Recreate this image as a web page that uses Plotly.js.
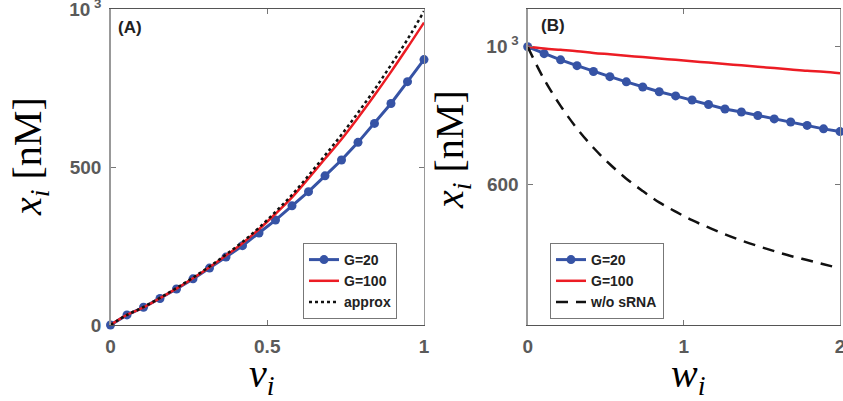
<!DOCTYPE html>
<html><head><meta charset="utf-8">
<script src="https://cdn.plot.ly/plotly-3.0.1.min.js"></script>
<style>html,body{margin:0;padding:0;background:#fff}#chart{width:843px;height:401px}</style>
</head><body><div id="chart"></div><script>
// Panel A data
const vA = [0, 0.0526, 0.1053, 0.1579, 0.2105, 0.2632, 0.3158, 0.3684, 0.4211, 0.4737, 0.5263, 0.5789, 0.6316, 0.6842, 0.7368, 0.7895, 0.8421, 0.8947, 0.9474, 1];
const aG20 = [0, 32, 56, 84, 114, 146, 180, 215, 251, 291, 332, 377, 422, 472, 522, 578, 638, 701, 770, 840];
const aG100 = [0, 32, 56, 85, 115, 148, 183, 220, 259, 303, 352, 404, 464, 526, 588, 656, 727, 801, 878, 957];
const aApprox = [0, 32, 57, 86, 117, 150, 185, 223, 263, 308, 358, 412, 473, 537, 602, 672, 745, 823, 904, 993];
// Panel B data
const wB = [0, 0.1053, 0.2105, 0.3158, 0.4211, 0.5263, 0.6316, 0.7368, 0.8421, 0.9474, 1.0526, 1.1579, 1.2632, 1.3684, 1.4737, 1.5789, 1.6842, 1.7895, 1.8947, 2];
const bG20 = [1000, 980, 962, 945, 928, 913, 898, 883, 869, 857, 845, 832, 819, 810, 800, 790, 781, 771, 761, 753];
const bG100 = [1000, 995, 991, 987, 982, 978, 974, 970, 966, 962, 958, 954, 950, 946, 942, 938, 934, 930, 927, 923];
const bNoSRNA = [1000, 905, 828, 762, 706, 658, 616, 580, 547, 520, 495, 474, 454, 436, 420, 405, 391, 379, 367, 355];
// Tick labels
const aXTicks = [0, 0.5, 1], aXText = ['0', '0.5', '1'];
const aYTicks = [0, 500, 1000], aYText = ['0', '500', '10<sup> 3</sup>'];
const bXTicks = [0, 1, 2], bXText = ['0', '1', '2'];
const bYTicks = [600, 1000], bYText = ['600', '10<sup> 3</sup>'];
const names = ['G=20', 'G=100', 'approx', 'w/o sRNA'];

const bold = arr => arr.map(t => '<b>' + t + '</b>');
const BLUE = 'rgb(54,83,165)', RED = 'rgb(236,28,36)';
const traces = [
  {x: vA, y: aG20, name: bold([names[0]])[0], xaxis: 'x', yaxis: 'y', legend: 'legend', mode: 'lines+markers', cliponaxis: false,
   line: {color: BLUE, width: 3}, marker: {color: BLUE, size: 9}},
  {x: vA, y: aG100, name: bold([names[1]])[0], xaxis: 'x', yaxis: 'y', legend: 'legend', mode: 'lines', cliponaxis: false,
   line: {color: RED, width: 2.5, shape: 'spline'}},
  {x: vA, y: aApprox, name: bold([names[2]])[0], xaxis: 'x', yaxis: 'y', legend: 'legend', mode: 'lines', cliponaxis: false,
   line: {color: '#111', width: 2.5, dash: 'dot', shape: 'spline'}},
  {x: wB, y: bG20, name: bold([names[0]])[0], xaxis: 'x2', yaxis: 'y2', legend: 'legend2', mode: 'lines+markers', cliponaxis: false,
   line: {color: BLUE, width: 3}, marker: {color: BLUE, size: 9}},
  {x: wB, y: bG100, name: bold([names[1]])[0], xaxis: 'x2', yaxis: 'y2', legend: 'legend2', mode: 'lines', cliponaxis: false,
   line: {color: RED, width: 2.5, shape: 'spline'}},
  {x: wB, y: bNoSRNA, name: bold([names[3]])[0], xaxis: 'x2', yaxis: 'y2', legend: 'legend2', mode: 'lines', cliponaxis: false,
   line: {color: '#111', width: 2.5, dash: '12px,8px', shape: 'spline'}}
];

const SANS = 'Liberation Sans, Arial, sans-serif';
function ax(extra) {
  return Object.assign({showgrid: false, zeroline: false, showline: true, mirror: 'ticks', ticks: 'inside',
    ticklen: 5, tickwidth: 1, tickcolor: '#777', linewidth: 1.3,
    tickfont: {family: SANS, size: 19, color: '#5a5a5a'}, tickmode: 'array', ticklabelstandoff: 4,
    ticklabeloverflow: 'allow', fixedrange: true}, extra);
}
const ydom = [76/401, 392/401];
const legFont = {family: SANS, size: 14, color: '#222'};
const titleFont = {family: 'Liberation Serif, Times New Roman, serif', size: 40, color: '#000'};
const ytitle = '<i>x</i><sub><i>i</i></sub> [nM]';

const layout = {
  width: 843, height: 401, margin: {l: 0, r: 0, t: 0, b: 0},
  font: {family: SANS, size: 19, color: '#5a5a5a'},
  paper_bgcolor: '#fff', plot_bgcolor: '#fff', showlegend: true,
  xaxis: ax({domain: [110.5/843, 424/843], range: [0, 1], tickvals: aXTicks, ticktext: bold(aXText), linecolor: '#555', anchor: 'y'}),
  yaxis: ax({domain: ydom, range: [0, 1000], tickvals: aYTicks, ticktext: bold(aYText), linecolor: '#999', anchor: 'x'}),
  xaxis2: ax({domain: [527.7/843, 840/843], range: [0, 2], tickvals: bXTicks, ticktext: bold(bXText), linecolor: '#555', anchor: 'y2'}),
  yaxis2: ax({domain: ydom, range: [190, 1110], tickvals: bYTicks, ticktext: bold(bYText), linecolor: '#999', anchor: 'x2'}),
  legend: {x: 303/843, y: 1 - 281/401, xanchor: 'left', yanchor: 'middle', bgcolor: '#fff', bordercolor: '#777', borderwidth: 1,
    font: legFont, itemwidth: 30, tracegroupgap: 0},
  legend2: {x: 550/843, y: 1 - 281/401, xanchor: 'left', yanchor: 'middle', bgcolor: '#fff', bordercolor: '#777', borderwidth: 1,
    font: legFont, itemwidth: 30, tracegroupgap: 0},
  annotations: [
    {xref: 'paper', yref: 'paper', x: 30/843, y: 1 - 157/401, text: ytitle, textangle: -90, showarrow: false, font: titleFont, xanchor: 'center', yanchor: 'middle'},
    {xref: 'paper', yref: 'paper', x: 452/843, y: 1 - 150/401, text: ytitle, textangle: -90, showarrow: false, font: titleFont, xanchor: 'center', yanchor: 'middle'},
    {xref: 'paper', yref: 'paper', x: 262/843, y: 1 - 376/401, text: '<i>v</i><sub><i>i</i></sub>', showarrow: false, font: titleFont, xanchor: 'center', yanchor: 'middle'},
    {xref: 'paper', yref: 'paper', x: 688/843, y: 1 - 376/401, text: '<i>w</i><sub><i>i</i></sub>', showarrow: false, font: titleFont, xanchor: 'center', yanchor: 'middle'},
    {xref: 'paper', yref: 'paper', x: 116/843, y: 1 - 27.5/401, text: '<b>(A)</b>', showarrow: false, xanchor: 'left', yanchor: 'middle',
      font: {family: SANS, size: 17, color: '#222'}},
    {xref: 'paper', yref: 'paper', x: 539/843, y: 1 - 25/401, text: '<b>(B)</b>', showarrow: false, xanchor: 'left', yanchor: 'middle',
      font: {family: SANS, size: 17, color: '#222'}}
  ]
};
Plotly.newPlot('chart', traces, layout, {displayModeBar: false, staticPlot: true});
</script></body></html>
